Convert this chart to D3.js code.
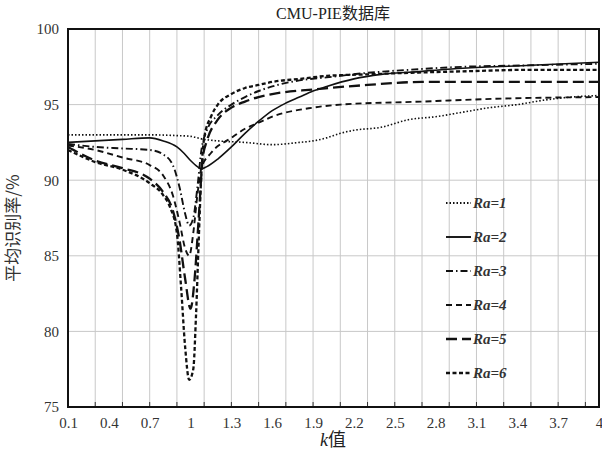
<!DOCTYPE html>
<html><head><meta charset="utf-8">
<script src="https://cdn.jsdelivr.net/npm/d3@7/dist/d3.min.js"></script>
<style>body{margin:0;background:#fff}svg{display:block}</style>
</head><body>
<svg id="c" width="602" height="452"></svg>
<script>
const title = "CMU-PIE数据库";
const yTitle = "平均识别率/%";
const xTickValues = [0.1,0.4,0.7,1,1.3,1.6,1.9,2.2,2.5,2.8,3.1,3.4,3.7,4];
const yTickValues = [75,80,85,90,95,100];
const xGridValues = [0.3,0.5,0.7,0.9,1.1,1.3,1.5,1.7,1.9,2.1,2.3,2.5,2.7,2.9,3.1,3.3,3.5,3.7,3.9];
const seriesNames = ["Ra=1","Ra=2","Ra=3","Ra=4","Ra=5","Ra=6"];

const ra1 = [[0.1,93.0],[0.4,93.0],[0.7,93.0],[0.9,92.95],[1.0,92.9],[1.1,92.7],[1.2,92.6],[1.4,92.5],[1.6,92.35],[1.8,92.5],[1.9,92.6],[2.0,92.8],[2.1,93.1],[2.2,93.3],[2.4,93.5],[2.6,94.0],[2.8,94.2],[3.0,94.5],[3.2,94.8],[3.4,95.0],[3.6,95.3],[3.8,95.5],[4.0,95.6]];
const ra2 = [[0.1,92.5],[0.3,92.6],[0.5,92.7],[0.7,92.8],[0.8,92.6],[0.9,92.2],[0.95,91.8],[1.0,91.3],[1.05,90.9],[1.08,90.75],[1.12,90.9],[1.2,91.4],[1.3,92.2],[1.4,93.1],[1.5,93.9],[1.6,94.6],[1.7,95.1],[1.8,95.5],[1.9,95.9],[2.0,96.2],[2.2,96.7],[2.4,97.0],[2.7,97.2],[3.0,97.4],[3.5,97.6],[4.0,97.8]];
const ra3 = [[0.1,92.4],[0.3,92.2],[0.5,92.1],[0.7,92.0],[0.8,91.7],[0.87,91.0],[0.92,89.5],[0.96,87.8],[0.99,87.0],[1.02,87.5],[1.05,89.5],[1.08,92.0],[1.12,93.3],[1.2,94.3],[1.3,95.0],[1.4,95.5],[1.5,95.9],[1.6,96.2],[1.8,96.6],[2.0,96.8],[2.3,97.1],[2.6,97.3],[3.0,97.5],[3.5,97.6],[4.0,97.7]];
const ra4 = [[0.1,92.3],[0.3,92.0],[0.5,91.5],[0.7,91.0],[0.8,90.3],[0.87,89.0],[0.92,87.2],[0.96,85.5],[0.99,85.0],[1.02,86.5],[1.05,89.0],[1.08,90.8],[1.15,91.8],[1.3,92.8],[1.4,93.4],[1.5,93.8],[1.6,94.2],[1.9,94.8],[2.1,95.0],[2.7,95.2],[3.3,95.4],[4.0,95.5]];
const ra5 = [[0.1,92.2],[0.3,91.3],[0.5,90.8],[0.7,90.1],[0.8,89.2],[0.87,88.0],[0.92,86.0],[0.96,83.5],[1.0,81.5],[1.03,83.5],[1.06,87.5],[1.09,91.5],[1.12,92.6],[1.2,94.0],[1.3,94.8],[1.4,95.2],[1.5,95.5],[1.6,95.7],[1.9,96.0],[2.3,96.3],[2.7,96.5],[3.3,96.5],[4.0,96.5]];
const ra6 = [[0.1,92.0],[0.3,91.2],[0.5,90.7],[0.7,89.8],[0.8,89.0],[0.85,88.2],[0.9,86.5],[0.93,83.0],[0.96,79.0],[0.99,76.8],[1.02,77.5],[1.04,81.0],[1.06,86.0],[1.08,90.5],[1.1,92.8],[1.15,94.2],[1.2,95.0],[1.3,95.7],[1.4,96.1],[1.5,96.3],[1.6,96.5],[1.8,96.7],[2.0,96.9],[2.3,97.0],[2.6,97.1],[3.0,97.2],[3.5,97.3],[4.0,97.3]];
const seriesData = [ra1,ra2,ra3,ra4,ra5,ra6];

const styles = [
  {dash:"1.5,2", w:1.6},
  {dash:null, w:1.6},
  {dash:"7,3,1.5,3", w:1.9},
  {dash:"6,4", w:1.9},
  {dash:"11,5", w:2.3},
  {dash:"4,2.5", w:2.3}
];

const svg = d3.select("#c");
const L=68, R=599, T=29, B=407;
const x = d3.scaleLinear().domain([0.1,4]).range([L,R]);
const y = d3.scaleLinear().domain([75,100]).range([B,T]);
const serif = "'Liberation Serif','Times New Roman',serif";
const cjk = "'Liberation Serif','Noto Sans CJK SC',serif";

// grid
svg.append("g").selectAll("line").data(xGridValues).join("line")
  .attr("x1",d=>x(d)).attr("x2",d=>x(d)).attr("y1",T).attr("y2",B)
  .attr("stroke","#c8c8c8").attr("stroke-width",1);
svg.append("g").selectAll("line").data(yTickValues.slice(1,-1)).join("line")
  .attr("x1",L).attr("x2",R).attr("y1",d=>y(d)).attr("y2",d=>y(d))
  .attr("stroke","#c8c8c8").attr("stroke-width",1);
// bottom small ticks
svg.append("g").selectAll("line").data(xGridValues).join("line")
  .attr("x1",d=>x(d)).attr("x2",d=>x(d)).attr("y1",B).attr("y2",B-5)
  .attr("stroke","#333").attr("stroke-width",1);

// lines
const line = d3.line().x(d=>x(d[0])).y(d=>y(d[1])).curve(d3.curveMonotoneX);
svg.append("clipPath").attr("id","clp").append("rect").attr("x",L).attr("y",T).attr("width",R-L).attr("height",B-T);
svg.append("g").attr("clip-path","url(#clp)").selectAll("path").data(seriesData).join("path")
  .attr("d",line).attr("fill","none").attr("stroke","#111")
  .attr("stroke-width",(d,i)=>styles[i].w)
  .attr("stroke-dasharray",(d,i)=>styles[i].dash);

// frame
svg.append("rect").attr("x",L).attr("y",T).attr("width",R-L).attr("height",B-T)
  .attr("fill","none").attr("stroke","#111").attr("stroke-width",2);

// axes labels
const xa = d3.axisBottom(x).tickValues(xTickValues).tickSize(0).tickPadding(10).tickFormat(d=>String(d));
const gx = svg.append("g").attr("transform",`translate(0,${B})`).call(xa);
gx.select(".domain").remove();
gx.selectAll("text").attr("font-family",serif).attr("font-size",15).attr("fill","#333");
const ya = d3.axisLeft(y).tickValues(yTickValues).tickSize(0).tickPadding(9);
const gy = svg.append("g").attr("transform",`translate(${L},0)`).call(ya);
gy.select(".domain").remove();
gy.selectAll("text").attr("font-family",serif).attr("font-size",15).attr("fill","#333");

// titles
svg.append("text").attr("x",333).attr("y",19).attr("text-anchor","middle")
  .attr("font-family",cjk).attr("font-size",16).attr("fill","#222").text(title);
svg.append("text").attr("transform","translate(19,228) rotate(-90)").attr("text-anchor","middle")
  .attr("font-family","'Noto Sans CJK SC',sans-serif").attr("font-size",17).attr("fill","#333").text(yTitle);
const xt = svg.append("text").attr("x",333).attr("y",446).attr("text-anchor","middle")
  .attr("font-family",cjk).attr("font-size",18).attr("fill","#222");
xt.append("tspan").attr("font-style","italic").attr("font-family",serif).text("k");
xt.append("tspan").text("值");

// legend
const leg = svg.append("g");
const legY = [203,237,271,305,339,373];
seriesNames.forEach((n,i)=>{
  leg.append("line").attr("x1",446).attr("x2",471).attr("y1",legY[i]).attr("y2",legY[i])
    .attr("stroke","#111").attr("stroke-width",styles[i].w+0.3).attr("stroke-dasharray",styles[i].dash);
  leg.append("text").attr("x",473).attr("y",legY[i]+5).attr("font-family",serif)
    .attr("font-size",15).attr("font-style","italic").attr("font-weight","bold").attr("fill","#333").text(n);
});
</script>
</body></html>
